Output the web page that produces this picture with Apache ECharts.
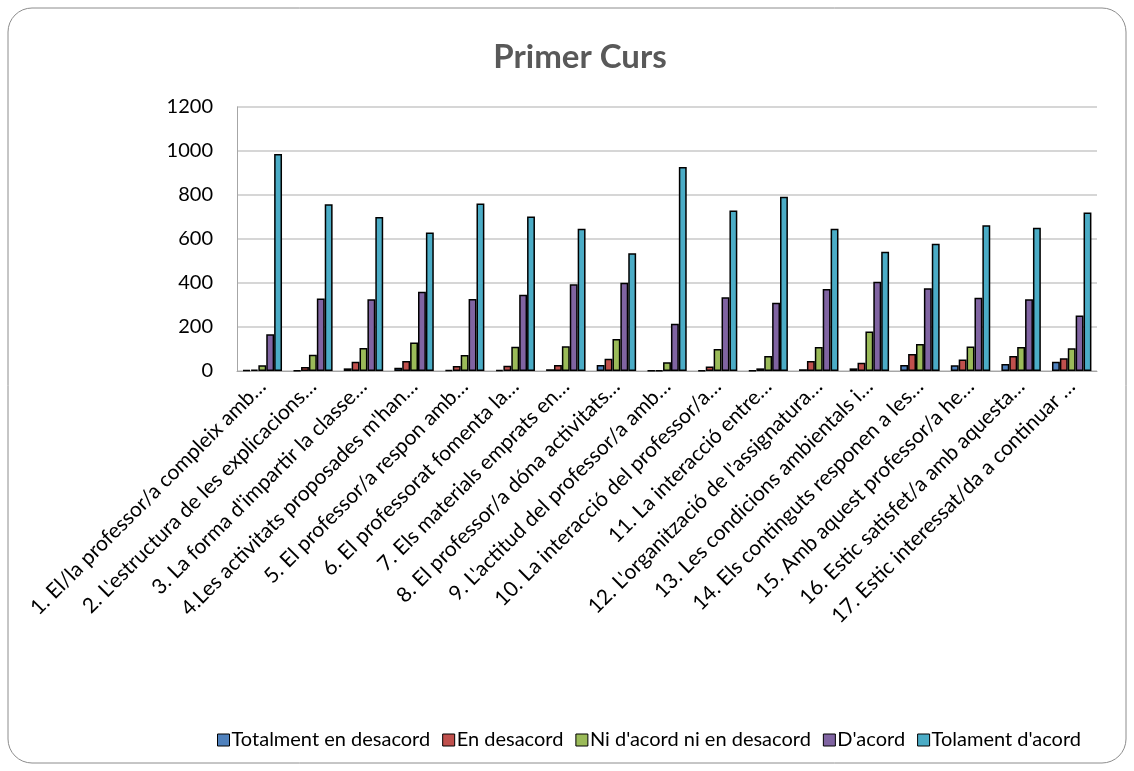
<!DOCTYPE html>
<html>
<head>
<meta charset="utf-8">
<script src="https://cdn.jsdelivr.net/npm/echarts@6/dist/echarts.min.js"></script>
<style>
html,body{margin:0;padding:0;background:#fff;}
#c{width:1134px;height:771px;}
</style>
</head>
<body>
<div id="c"></div>
<script>
const categories = [
  "1. El/la professor/a compleix amb…",
  "2. L'estructura de les explicacions…",
  "3. La forma d'impartir la classe…",
  "4.Les activitats proposades m'han…",
  "5. El professor/a respon amb…",
  "6. El professorat fomenta la…",
  "7. Els materials emprats en…",
  "8. El professor/a dóna activitats…",
  "9. L'actitud del professor/a amb…",
  "10. La interacció del professor/a…",
  "11. La interacció entre…",
  "12. L'organització de l'assignatura…",
  "13. Les condicions ambientals i…",
  "14. Els continguts responen a les…",
  "15. Amb aquest professor/a he…",
  "16. Estic satisfet/a amb aquesta…",
  "17. Estic interessat/da a continuar …"
];
const seriesNames = ["Totalment en desacord", "En desacord", "Ni d'acord ni en desacord", "D'acord", "Tolament d'acord"];
const totalmentDesacord = [4, 3, 12, 15, 4, 5, 8, 27, 2, 3, 3, 8, 12, 27, 26, 32, 42];
const enDesacord = [6, 18, 42, 45, 23, 24, 27, 56, 3, 20, 12, 45, 38, 77, 52, 68, 58];
const niNi = [26, 74, 105, 129, 73, 110, 112, 145, 40, 100, 68, 109, 179, 123, 111, 109, 103];
const dAcord = [167, 329, 326, 360, 327, 347, 394, 401, 215, 335, 310, 373, 406, 376, 333, 326, 252];
const tolamentAcord = [986, 758, 700, 630, 761, 702, 647, 535, 927, 730, 792, 647, 542, 578, 662, 651, 720];
const yTicks = [0, 200, 400, 600, 800, 1000, 1200];
const colors = ["#4F81BD", "#C0504D", "#9BBB59", "#8064A2", "#4BACC6"];
const allData = [totalmentDesacord, enDesacord, niNi, dAcord, tolamentAcord];

const FONT = "Lato, 'Open Sans', sans-serif";
const chart = echarts.init(document.getElementById('c'));
chart.setOption({
  animation: false,
  color: colors,
  graphic: [{
    type: 'rect',
    shape: {x: 8, y: 8, width: 1118, height: 755, r: 24},
    style: {fill: 'none', stroke: '#8c8c8c', lineWidth: 1},
    silent: true, z: -1
  }],
  title: {
    text: 'Primer Curs',
    left: 575, top: 36, textAlign: 'center',
    textStyle: {fontFamily: FONT, fontSize: 33, fontWeight: 'bold', color: '#595959'}
  },
  legend: {
    data: seriesNames,
    bottom: 16,
    left: 212,
    itemWidth: 12, itemHeight: 12, itemGap: 12,
    icon: 'rect',
    textStyle: {fontFamily: FONT, fontSize: 20, color: '#000', padding: [0,0,0,-3]},
    itemStyle: {borderColor: '#000', borderWidth: 1}
  },
  grid: {left: 237, right: 37, top: 107, bottom: 400, containLabel: false},
  xAxis: {
    type: 'category',
    data: categories,
    axisLine: {lineStyle: {color: '#a6a6a6'}},
    axisTick: {show: false},
    axisLabel: {rotate: 45, interval: 0, fontFamily: FONT, fontSize: 21, color: '#000', margin: 12}
  },
  yAxis: {
    type: 'value',
    min: yTicks[0], max: yTicks[yTicks.length - 1], interval: yTicks[1] - yTicks[0],
    axisLine: {show: true, lineStyle: {color: '#a6a6a6'}},
    axisTick: {show: false},
    splitLine: {lineStyle: {color: '#c8c8c8', width: 1.5}},
    axisLabel: {fontFamily: FONT, fontSize: 20, color: '#000', margin: 24, formatter: v => String(v)}
  },
  series: seriesNames.map((n, i) => ({
    name: n,
    type: 'bar',
    data: allData[i],
    barGap: '0%',
    barCategoryGap: '22%',
    itemStyle: {color: colors[i], borderColor: '#000', borderWidth: 1.5}
  }))
});
</script>
</body>
</html>
